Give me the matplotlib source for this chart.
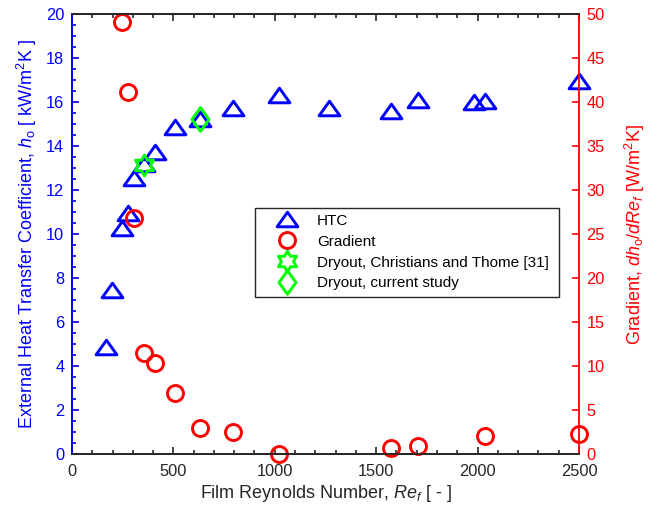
import numpy as np
import matplotlib
matplotlib.use("Agg")
import matplotlib.pyplot as plt
from matplotlib.path import Path
from matplotlib.markers import MarkerStyle
from matplotlib.lines import Line2D
from matplotlib.ticker import MultipleLocator

plt.rcParams['font.family'] = ['Liberation Sans', 'DejaVu Sans']
plt.rcParams['mathtext.fontset'] = 'custom'
plt.rcParams['mathtext.rm'] = 'Liberation Sans'
plt.rcParams['mathtext.it'] = 'Liberation Sans:italic'
plt.rcParams['font.size'] = 11.8

# heat transfer coefficient vs film Reynolds number
re_htc = [170, 198, 249, 274, 305, 353, 408, 506, 629, 793, 1019, 1268, 1572, 1707, 1982, 2036, 2500]
htc = [4.89, 7.47, 10.3, 10.95, 12.55, 13.2, 13.75, 14.85, 15.23, 15.72, 16.3, 15.72, 15.6, 16.1, 15.98, 16.03, 16.94]

# gradient dh/dRe
re_grad = [249, 274, 305, 353, 408, 506, 629, 793, 1019, 1572, 1707, 2036, 2500]
grad = [49.1, 41.1, 26.8, 11.5, 10.4, 7.0, 2.95, 2.56, 0.03, 0.75, 0.94, 2.08, 2.27]

# dryout points
re_dry_ct = [353]
htc_dry_ct = [13.15]
re_dry_cur = [629]
htc_dry_cur = [15.25]

blue = '#0000FF'
red = '#FF0000'
green = '#00FF00'
dark = '#262626'

# marker shapes: wide triangle, diamond, six-point star
tri = MarkerStyle(Path([(0, 0.7), (-1, -0.7), (1, -0.7), (0, 0.7)], closed=True), joinstyle='miter')
dia = MarkerStyle(Path([(0, 1), (0.72, 0), (0, -1), (-0.72, 0), (0, 1)], closed=True), joinstyle='miter')
ang = np.deg2rad(90 + 30 * np.arange(12))
rad = np.where(np.arange(12) % 2 == 0, 1.0, 1 / np.sqrt(3))
hex_verts = list(zip(rad * np.cos(ang), rad * np.sin(ang)))
hexa = MarkerStyle(Path(hex_verts + [hex_verts[0]], closed=True), joinstyle='miter')

style_htc = dict(linestyle='none', marker=tri, ms=15, mfc='none', mec=blue, mew=2.1)
style_grad = dict(linestyle='none', marker='o', ms=11.5, mfc='none', mec=red, mew=2.1)
style_ct = dict(linestyle='none', marker=hexa, ms=15, mfc='none', mec=green, mew=2.1)
style_cur = dict(linestyle='none', marker=dia, ms=17, mfc='none', mec=green, mew=2.1)

fig = plt.figure(figsize=(6.67, 5.09), dpi=100)
ax = fig.add_axes([0.1079, 0.1075, 0.7601, 0.8650])
ax2 = ax.twinx()

ax.plot(re_htc, htc, clip_on=False, **style_htc)
ax.plot(re_dry_ct, htc_dry_ct, clip_on=False, **style_ct)
ax.plot(re_dry_cur, htc_dry_cur, clip_on=False, **style_cur)
ax2.plot(re_grad, grad, clip_on=False, **style_grad)

ax.set_xlim(0, 2500)
ax.set_ylim(0, 20)
ax2.set_ylim(0, 50)
ax.xaxis.set_major_locator(MultipleLocator(500))
ax.xaxis.set_minor_locator(MultipleLocator(100))
ax.yaxis.set_major_locator(MultipleLocator(2))
ax.yaxis.set_minor_locator(MultipleLocator(0.5))
ax2.yaxis.set_major_locator(MultipleLocator(5))
ax2.yaxis.set_minor_locator(plt.NullLocator())

for a in (ax, ax2):
    for s in a.spines.values():
        s.set_linewidth(1.3)
        s.set_color(dark)
ax2.spines['left'].set_color(blue)
ax2.spines['right'].set_color(red)
ax.spines['left'].set_color(blue)
ax.spines['right'].set_visible(False)

ax.tick_params(axis='x', which='both', direction='in', top=True, colors=dark, width=1.2, pad=7)
ax.tick_params(axis='x', which='major', length=5)
ax.tick_params(axis='x', which='minor', length=3)
ax.tick_params(axis='y', which='both', direction='in', colors=blue, width=1.2, pad=5.5)
ax.tick_params(axis='y', which='major', length=5)
ax.tick_params(axis='y', which='minor', length=3)
ax2.tick_params(axis='y', which='major', direction='in', colors=red, width=1.2, length=5, pad=5.5)

ax.set_xlabel(r'Film Reynolds Number, $Re_f$ [ - ]', color=dark, fontsize=13, labelpad=3)
ax.set_ylabel(r'External Heat Transfer Coefficient, $h_\mathrm{o}$ [ kW/m$^2$K ]',
              color=blue, fontsize=13, labelpad=5)
ax2.set_ylabel(r'Gradient, $dh_\mathrm{o}/dRe_f$ [W/m$^2$K]', color=red, fontsize=13, labelpad=13)

handles = [Line2D([], [], **style_htc), Line2D([], [], **style_grad),
           Line2D([], [], **style_ct), Line2D([], [], **style_cur)]
labels = ['HTC', 'Gradient', 'Dryout, Christians and Thome [31]', 'Dryout, current study']
leg = ax2.legend(handles, labels, loc='upper left', bbox_to_anchor=(0.361, 0.353, 0.599, 0.207),
                 mode='expand', borderaxespad=0, borderpad=0.4, handlelength=3.34,
                 handletextpad=0.31, labelspacing=0.45, fancybox=False, framealpha=1,
                 edgecolor=dark, fontsize=11)
leg.get_frame().set_linewidth(1.0)

fig.savefig('out.png', dpi=100)
